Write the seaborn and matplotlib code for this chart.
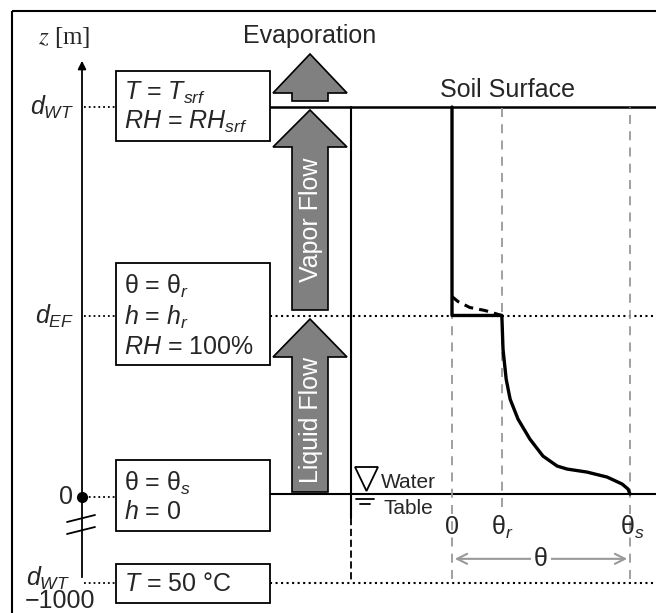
import numpy as np
import pandas as pd
import matplotlib.pyplot as plt
import matplotlib.patches as mpatches
import seaborn as sns

# soil water content profile (schematic values)
theta_r = 0.126
theta_s = 0.45
z_surface = 3.88
z_ef = 1.79
z_bottom = -0.85

profile_theta = [0.0, 0.0, 0.126, 0.129, 0.137, 0.147, 0.167, 0.197, 0.230, 0.266,
                 0.291, 0.341, 0.392, 0.430, 0.445, 0.45]
profile_z = [3.88, 1.79, 1.79, 1.45, 1.15, 0.95, 0.75, 0.55, 0.38, 0.28,
             0.25, 0.22, 0.17, 0.10, 0.05, 0.0]
vapor_theta = [0.0, 0.015, 0.045, 0.083, 0.126]
vapor_z = [1.98, 1.93, 1.87, 1.84, 1.79]

sns.set_style('white')
plt.rcParams['font.family'] = ['Liberation Sans', 'DejaVu Sans']
plt.rcParams['mathtext.fontset'] = 'custom'
plt.rcParams['mathtext.rm'] = 'Liberation Sans'
plt.rcParams['mathtext.it'] = 'Liberation Sans:italic'
plt.rcParams['mathtext.bf'] = 'Liberation Sans:bold'

W, H = 656, 613
fig = plt.figure(figsize=(W / 100, H / 100), dpi=100)
ax = fig.add_axes([0, 0, 1, 1])
ax.set_xlim(0, W)
ax.set_ylim(H, 0)
ax.axis('off')

fs = 18
k = 'black'

# outer frame
ax.add_patch(mpatches.Rectangle((12, 11), 700, 700, fill=False, lw=1.5, ec=k))

# z axis
ax.annotate('', xy=(82, 58), xytext=(82, 580),
            arrowprops=dict(arrowstyle='-|>', lw=1.3, color=k, mutation_scale=12))
ax.plot([67, 95], [522, 515], color=k, lw=1.3)
ax.plot([67, 95], [534, 527], color=k, lw=1.3)
ax.plot([82], [497], 'o', color=k, ms=7)
ax.text(38, 38, '$z$ [m]', fontsize=fs, family='Liberation Serif',
        math_fontfamily='stix', va='center', ha='left')

# level labels
ax.text(74, 107, '$d_{WT}$', fontsize=fs, ha='right', va='center')
ax.text(74, 316, '$d_{EF}$', fontsize=fs, ha='right', va='center')
ax.text(73, 497, '0', fontsize=fs, ha='right', va='center')
ax.text(70, 578, '$d_{WT}$', fontsize=fs, ha='right', va='center')
ax.text(60, 601, '\u22121000', fontsize=fs, ha='center', va='center')

# dotted connectors left
for yy in [107, 316, 497, 583]:
    ax.plot([84, 116], [yy, yy], ls=':', color=k, lw=1.3)

# horizontal lines right
ax.plot([270, 660], [107, 107], color=k, lw=1.8, zorder=2)
ax.plot([270, 660], [316, 316], ls=':', color=k, lw=1.5, zorder=1)
ax.plot([270, 660], [494, 494], color=k, lw=1.5, zorder=2)
ax.plot([270, 660], [583, 583], ls=':', color=k, lw=1.5, zorder=1)

# vertical line
ax.plot([351, 351], [107, 518], color=k, lw=1.5)
ax.plot([351, 351], [518, 580], color=k, lw=1.3, ls=(0, (4, 2)))

# boxes
for (y0, y1) in [(71, 141), (263, 365), (460, 531), (564, 603)]:
    ax.add_patch(mpatches.Rectangle((116, y0), 154, y1 - y0, fc='white', ec=k, lw=1.3, zorder=3))

box_lines = [
    (93, '$T$ = $T_{srf}$'),
    (122, '$RH$ = $RH_{srf}$'),
    (286, '\u03b8 = \u03b8$_r$'),
    (317, '$h$ = $h_r$'),
    (347, '$RH$ = 100%'),
    (483, '\u03b8 = \u03b8$_s$'),
    (512, '$h$ = 0'),
    (584, '$T$ = 50 \u00b0C'),
]
for yy, s in box_lines:
    ax.text(124, yy, s, fontsize=fs, ha='left', va='center', zorder=4)


# flow arrows
def block_arrow(tip, base, bottom):
    pts = [(310, tip), (347, base), (328, base), (328, bottom),
           (292, bottom), (292, base), (273, base)]
    ax.add_patch(mpatches.Polygon(pts, closed=True, fc='#808080', ec=k, lw=1.2, zorder=3))


block_arrow(54, 93, 101)
block_arrow(110, 147, 310)
block_arrow(319, 357, 492)
ax.text(310, 36, 'Evaporation', fontsize=fs, ha='center', va='center')
ax.text(311, 220, 'Vapor Flow', fontsize=fs, ha='center', va='center',
        rotation=90, color='white', zorder=4)
ax.text(311, 420, 'Liquid Flow', fontsize=fs, ha='center', va='center',
        rotation=90, color='white', zorder=4)
ax.text(507, 90, 'Soil Surface', fontsize=fs, ha='center', va='center')

# water table symbol
ax.add_patch(mpatches.Polygon([(355, 467), (378, 467), (366.5, 491)], closed=True,
                              fill=False, ec=k, lw=1.3))
ax.plot([356, 374], [499, 499], color=k, lw=1.3)
ax.plot([360, 370], [504, 504], color=k, lw=1.3)
ax.text(381, 482, 'Water', fontsize=15, ha='left', va='center')
ax.text(384, 508, 'Table', fontsize=15, ha='left', va='center')

# soil moisture profile axes
ax2 = fig.add_axes([452 / W, (H - 494) / H, (630 - 452) / W, (494 - 107) / H])
ax2.set_xlim(0, theta_s)
ax2.set_ylim(0, z_surface)
ax2.axis('off')
ax2.patch.set_alpha(0)

gray = '#999999'
ax2.vlines([0, theta_s], z_bottom, z_surface, colors=gray, linestyles=(0, (5, 4)),
           lw=1.3, clip_on=False)
ax2.vlines([theta_r], -0.13, z_surface, colors=gray, linestyles=(0, (5, 4)),
           lw=1.3, clip_on=False)

prof = pd.DataFrame({'theta': profile_theta, 'z': profile_z})
vap = pd.DataFrame({'theta': vapor_theta, 'z': vapor_z})
sns.lineplot(data=prof, x='theta', y='z', sort=False, estimator=None, color=k,
             lw=2.4, ax=ax2, clip_on=False)
sns.lineplot(data=vap, x='theta', y='z', sort=False, estimator=None, color=k,
             lw=2.2, ls=(0, (3, 2)), ax=ax2, clip_on=False)
ax2.set_xlim(0, theta_s)
ax2.set_ylim(0, z_surface)
ax2.axis('off')

ax2.text(0, -0.33, '0', fontsize=fs, ha='center', va='center')
ax2.text(theta_r, -0.33, '\u03b8$_r$', fontsize=fs, ha='center', va='center')
ax2.text(theta_s + 0.006, -0.33, '\u03b8$_s$', fontsize=fs, ha='center', va='center')
ax2.annotate('', xy=(0, -0.65), xytext=(theta_s, -0.65), annotation_clip=False,
             arrowprops=dict(arrowstyle='<->', color=gray, lw=1.5, mutation_scale=18))
ax2.text(theta_s / 2, -0.65, '\u03b8', fontsize=fs, ha='center', va='center',
         bbox=dict(fc='white', ec='none', pad=2))

plt.savefig('out.png', dpi=100)
plt.close()
